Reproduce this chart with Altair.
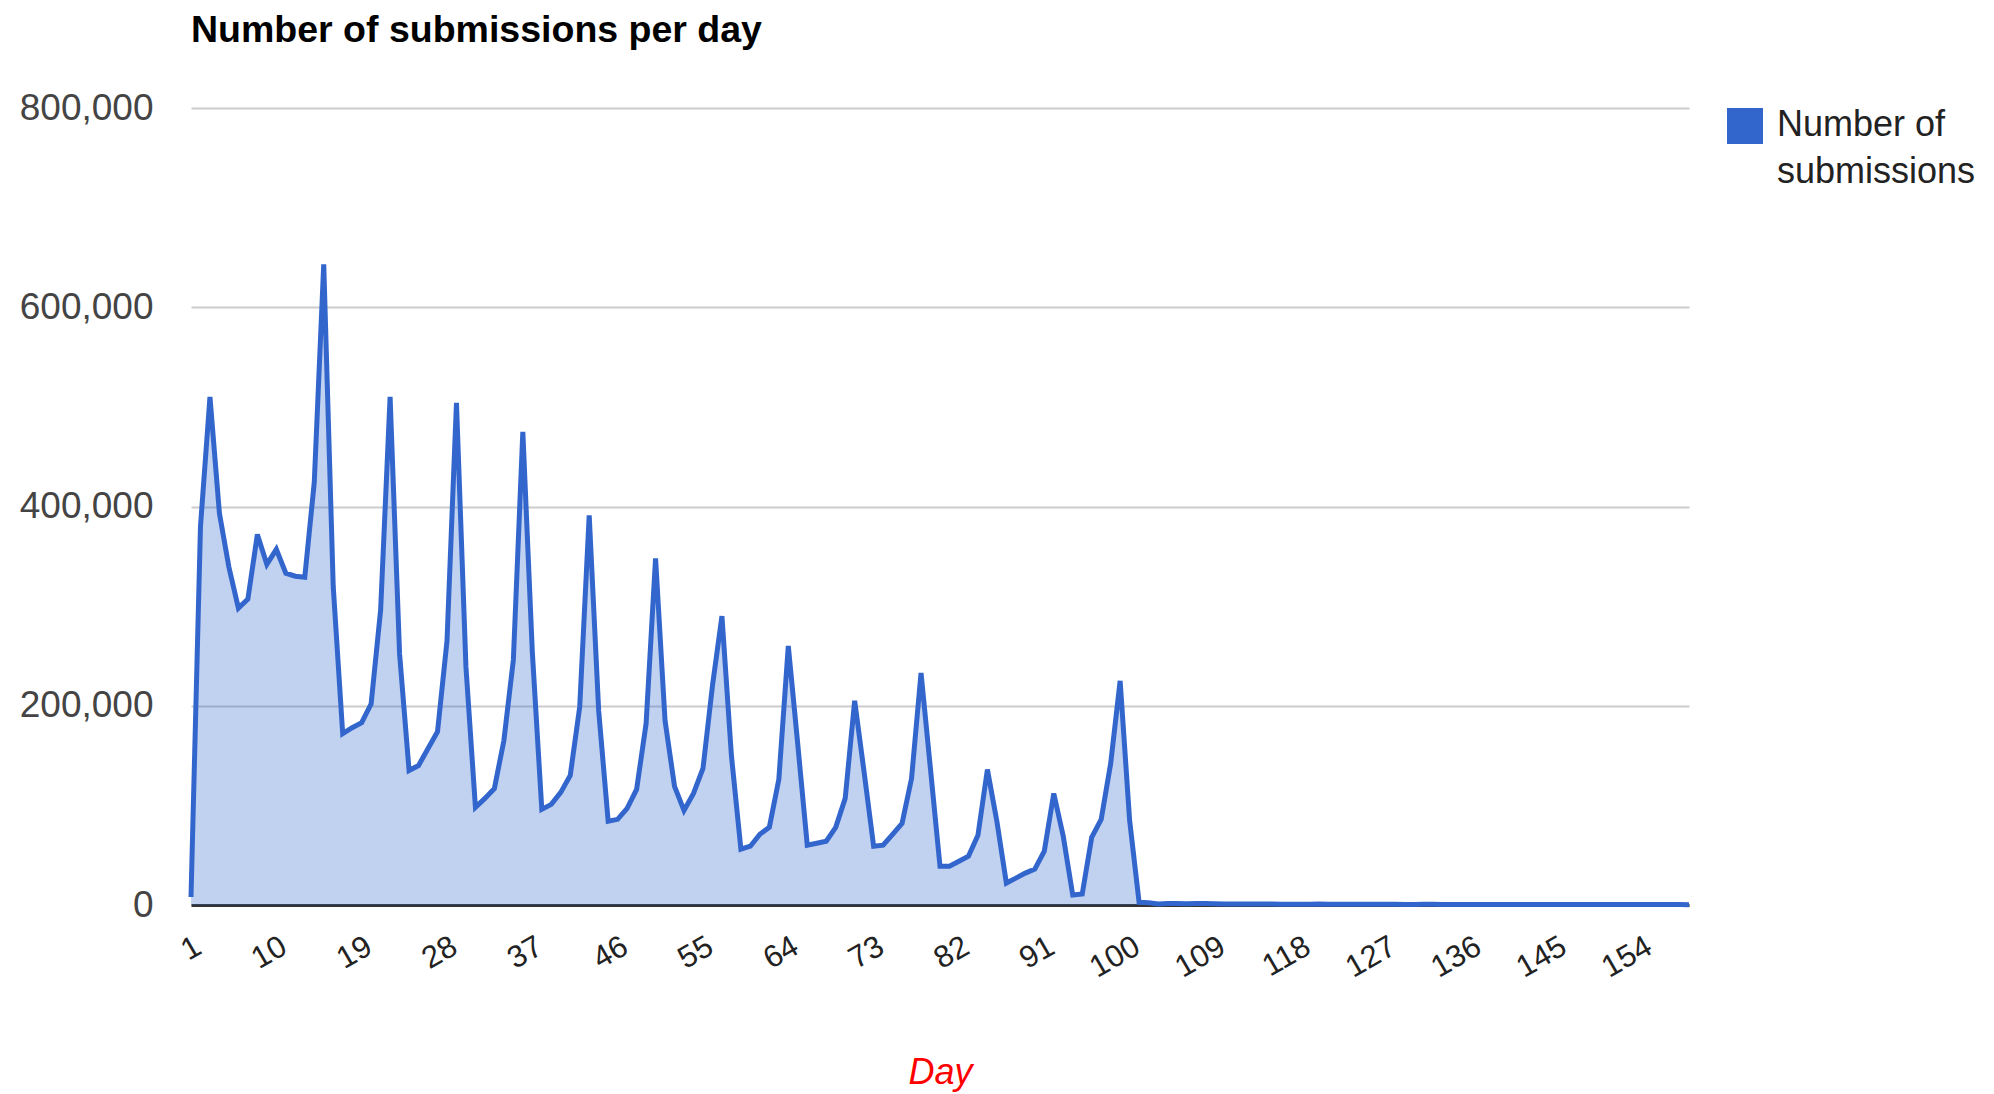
import altair as alt
import pandas as pd

days = list(range(1, 160))
submissions = [
    8000, 380000, 510000, 393000, 339000, 298000, 307000, 372000, 342000, 357000,
    333000, 330000, 329000, 424000, 643000, 320000, 172000, 178000, 183000, 202000,
    296000, 510000, 252000, 135000, 140000, 157000, 174000, 265000, 504000, 239000,
    98000, 107000, 117000, 165000, 246000, 475000, 254000, 96000, 101000, 113000,
    130000, 199000, 391000, 195000, 84000, 86000, 97000, 116000, 182000, 348000,
    185000, 119000, 95000, 112000, 137000, 220000, 290000, 150000, 56000, 59000,
    71000, 78000, 126000, 260000, 161000, 60000, 62000, 64000, 78000, 107000,
    205000, 133000, 59000, 60000, 71000, 82000, 127000, 233000, 136000, 39000,
    39000, 44000, 49000, 70000, 136000, 84000, 22000, 27000, 32000, 36000,
    54000, 112000, 69000, 10000, 11000, 68000, 86000, 142000, 225000, 85000,
    2700, 2300, 1000,
    1600, 1400, 1300, 1500, 1400, 1200, 1100, 1000, 1000, 900,
    950, 900, 850, 800, 800, 750, 900, 800, 700, 700,
    650, 700, 800, 700, 650, 600, 600, 650, 700, 600,
    550, 600, 600, 550, 500, 550, 600, 500, 500, 450,
    500, 550, 500, 450, 450, 500, 600, 500, 450, 400,
    450, 500, 450, 400, 400, 350,
]
assert len(submissions) == len(days)
series_name = "Number of submissions"
legend_lines = ["Number of", "submissions"]
x_ticks = list(range(1, 160, 9))
y_ticks = [0, 200000, 400000, 600000, 800000]

df = pd.DataFrame({"Day": days, "Submissions": submissions, "Series": series_name})

FONT = "Liberation Sans"

base = alt.Chart(df).encode(
    x=alt.X(
        "Day:Q",
        scale=alt.Scale(domain=[1, 159], nice=False, zero=False),
        axis=alt.Axis(
            values=x_ticks,
            title="Day",
            labelAngle=-30,
            labelFontSize=31,
            labelColor="#222222",
            labelFont=FONT,
            labelPadding=26,
            labelOverlap=False,
            ticks=False,
            grid=False,
            domainColor="#333333",
            domainWidth=3,
            titleFont=FONT,
            titleFontSize=36,
            titleFontStyle="italic",
            titleFontWeight="normal",
            titleColor="#ff0000",
            titlePadding=73,
        ),
    ),
    y=alt.Y(
        "Submissions:Q",
        scale=alt.Scale(domain=[0, 800000], nice=False),
        axis=alt.Axis(
            values=y_ticks,
            format=",d",
            title=None,
            labelFontSize=37,
            labelColor="#444444",
            labelFont=FONT,
            labelPadding=38,
            ticks=False,
            domain=False,
            gridColor="#cccccc",
            gridWidth=2,
        ),
    ),
)

area = base.mark_area(fillOpacity=0.3, interpolate="linear").encode(
    color=alt.Color(
        "Series:N",
        scale=alt.Scale(range=["#3366cc"]),
        legend=alt.Legend(
            title=legend_lines,
            titleOrient="right",
            titleAnchor="start",
            titleBaseline="top",
            titleAlign="left",
            titleFont=FONT,
            titleFontSize=36,
            titleFontWeight="normal",
            titleColor="#222222",
            titleLineHeight=47,
            titlePadding=14,
            titleLimit=400,
            orient="none",
            legendX=1536,
            legendY=0,
            symbolType="square",
            symbolSize=1296,
            symbolOpacity=1,
            symbolStrokeWidth=0,
            labelExpr="''",
            labelOffset=0,
            labelFontSize=1,
            padding=0,
        ),
    )
)

line = base.mark_line(color="#3366cc", strokeWidth=5, interpolate="linear")

chart = (
    alt.layer(area, line)
    .properties(
        width=1498,
        height=797,
        view=alt.ViewBackground(stroke="transparent", strokeWidth=0),
        autosize=alt.AutoSizeParams(type="none"),
        padding={"left": 191, "top": 108, "right": 305, "bottom": 189},
        title=alt.TitleParams(
            text="Number of submissions per day",
            anchor="start",
            frame="group",
            font=FONT,
            fontSize=37.5,
            fontWeight="bold",
            color="#000000",
            offset=40,
        ),
    )
    .configure_view(stroke="transparent", strokeWidth=0, strokeOpacity=0)
    .configure(background="white", style={"cell": {"stroke": "transparent", "strokeWidth": 0}})
)

chart.save("out.html", embed_options={"renderer": "svg", "actions": False})
